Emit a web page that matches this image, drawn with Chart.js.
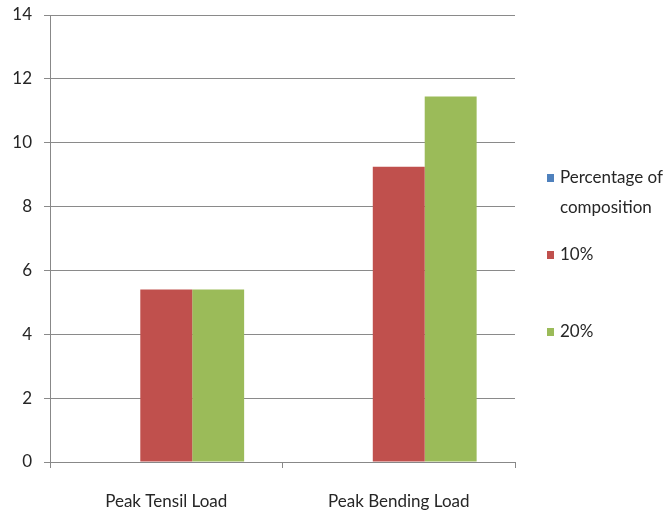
<!DOCTYPE html>
<html>
<head>
<meta charset="utf-8">
<script src="https://cdn.jsdelivr.net/npm/chart.js@4"></script>
<style>
  html, body { margin: 0; padding: 0; background: #fff; }
  #wrap { width: 672px; height: 517px; }
</style>
</head>
<body>
<div id="wrap"><canvas id="c" width="672" height="517"></canvas></div>
<script>
// Load test results by composition
const categories = ['Peak Tensil Load', 'Peak Bending Load'];
const seriesNames = [['Percentage of', 'composition'], ['10%'], ['20%']];
const seriesComposition = [null, null];
const series10 = [5.4, 9.25];
const series20 = [5.4, 11.45];
const yTicks = [0, 2, 4, 6, 8, 10, 12, 14];

const colors = ['#4F81BD', '#C0504D', '#9BBB59'];
const FONT = 'Lato, "Liberation Sans", sans-serif';

// Legend drawn at the right of the plot, one entry per dataset
const sideLegend = {
  id: 'sideLegend',
  afterDraw(chart) {
    const ctx = chart.ctx;
    const rowsY = [178, 255, 332];
    ctx.save();
    ctx.font = '17px ' + FONT;
    ctx.textBaseline = 'middle';
    chart.data.datasets.forEach((ds, i) => {
      const y = rowsY[i];
      ctx.fillStyle = ds.backgroundColor;
      ctx.fillRect(547, y - 4, 7, 8);
      ctx.fillStyle = '#262626';
      const lines = seriesNames[i];
      lines.forEach((t, k) => ctx.fillText(t, 560, y + k * 30));
    });
    ctx.restore();
  }
};

new Chart(document.getElementById('c'), {
  type: 'bar',
  data: {
    labels: categories,
    datasets: [
      { label: seriesNames[0].join(' '), data: seriesComposition, backgroundColor: colors[0] },
      { label: seriesNames[1].join(' '), data: series10, backgroundColor: colors[1] },
      { label: seriesNames[2].join(' '), data: series20, backgroundColor: colors[2] }
    ]
  },
  options: {
    responsive: false,
    animation: false,
    devicePixelRatio: 1,
    layout: { padding: { left: 0, right: 157, top: 15, bottom: 0 } },
    datasets: { bar: { categoryPercentage: 0.67, barPercentage: 1.0 } },
    plugins: { legend: { display: false }, tooltip: { enabled: false } },
    scales: {
      x: {
        grid: { offset: true, drawOnChartArea: false, drawTicks: true, tickLength: 6, color: '#888', lineWidth: 1 },
        border: { color: '#888', width: 1 },
        ticks: { font: { family: FONT, size: 17 }, color: '#262626', padding: 23 },
        afterFit(scale) { scale.height = 55; }
      },
      y: {
        min: 0, max: 14,
        afterBuildTicks(scale) { scale.ticks = yTicks.map(v => ({ value: v })); },
        grid: { color: '#8a8a8a', lineWidth: 1, tickLength: 6 },
        border: { color: '#888', width: 1 },
        ticks: { font: { family: FONT, size: 17 }, color: '#262626', padding: 12 },
        afterFit(scale) { scale.width = 50; scale.paddingTop = 0; scale.paddingBottom = 0; }
      }
    }
  },
  plugins: [sideLegend]
});
</script>
</body>
</html>
